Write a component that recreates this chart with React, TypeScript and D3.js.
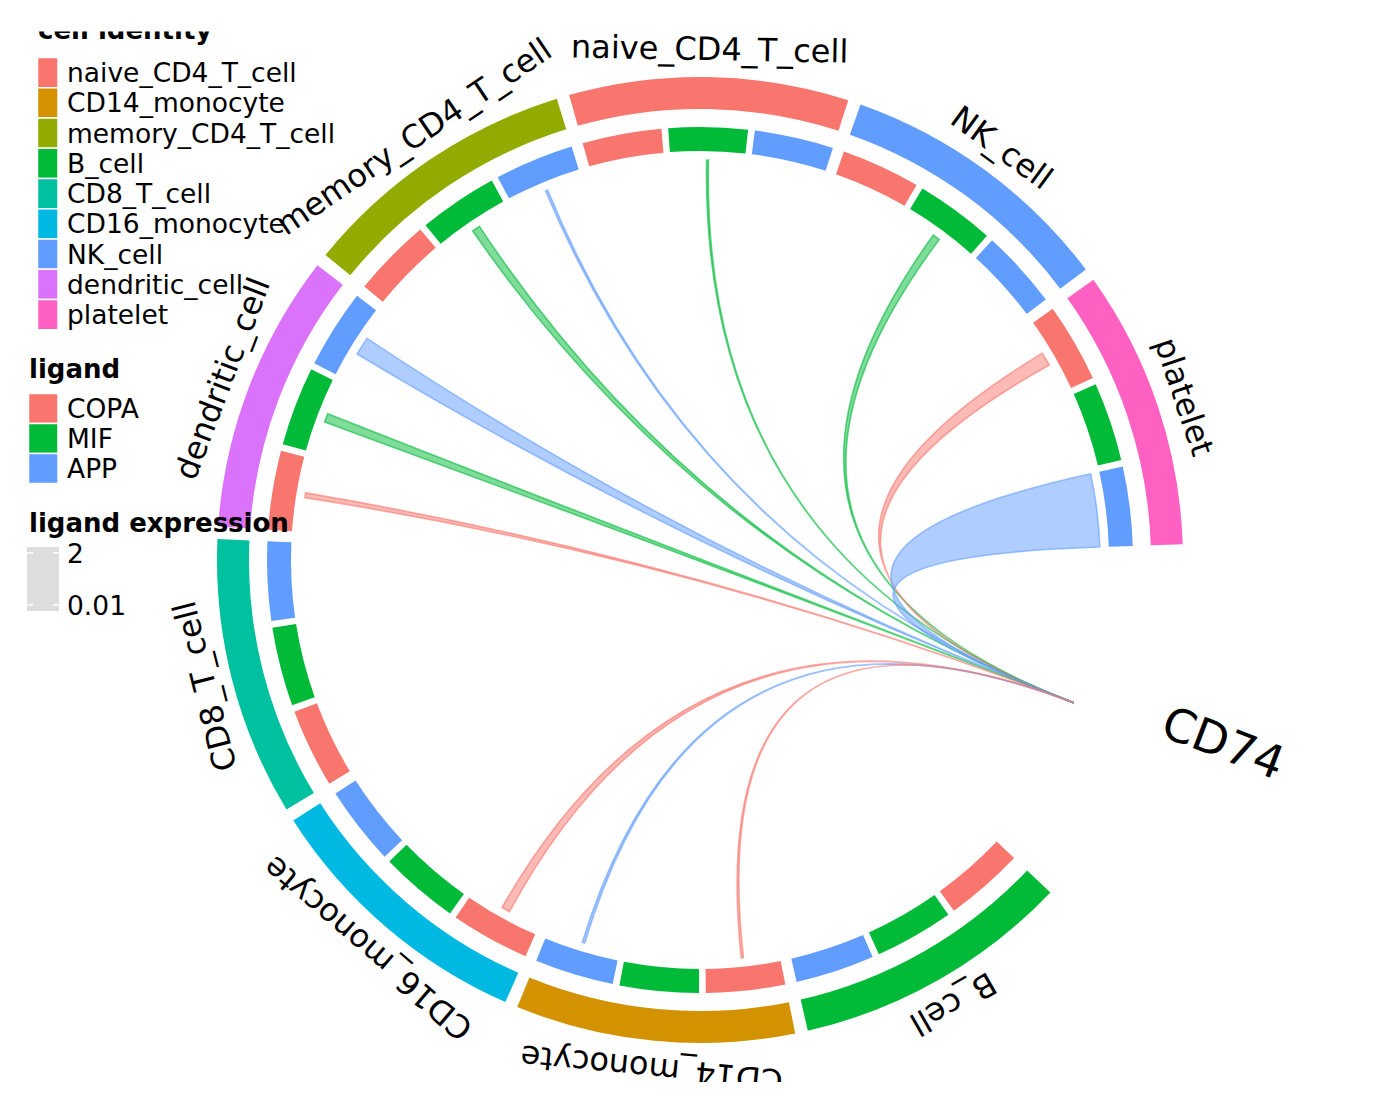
import React from 'react';
import * as d3 from 'd3';

// sender cell types in clockwise order around the circle (starting after CD74)
const circleCells = ['B_cell', 'CD14_monocyte', 'CD16_monocyte', 'CD8_T_cell', 'dendritic_cell', 'memory_CD4_T_cell', 'naive_CD4_T_cell', 'NK_cell', 'platelet'];
// legend order and colours
const legendCells = ['naive_CD4_T_cell', 'CD14_monocyte', 'memory_CD4_T_cell', 'B_cell', 'CD8_T_cell', 'CD16_monocyte', 'NK_cell', 'dendritic_cell', 'platelet'];
const cellColors = ['#F8766D', '#D39200', '#93AA00', '#00BA38', '#00C19F', '#00B9E3', '#619CFF', '#DB72FB', '#FF61C3'];
const ligands = ['COPA', 'MIF', 'APP'];
const ligandColors = ['#F8766D', '#00BA38', '#619CFF'];
const receptor = 'CD74';

// links: ligand expression of each sender → CD74
const linkCells = ['dendritic_cell', 'dendritic_cell', 'dendritic_cell', 'memory_CD4_T_cell', 'memory_CD4_T_cell', 'naive_CD4_T_cell', 'NK_cell', 'platelet', 'platelet', 'CD16_monocyte', 'CD14_monocyte', 'CD14_monocyte'];
const linkLigands = ['APP', 'MIF', 'COPA', 'MIF', 'APP', 'MIF', 'MIF', 'COPA', 'APP', 'COPA', 'APP', 'COPA'];
const linkValues = [0.5, 0.24, 0.13, 0.22, 0.06, 0.05, 0.2, 0.37, 2.0, 0.23, 0.07, 0.06];

const exprTickValues = [2, 0.01];
const exprTickLabels = ['2', '0.01'];

const FONT = 'DejaVu Sans, Verdana, sans-serif';

export default function App() {
  const cx = 700, cy = 560;
  const startDeg = 133.5, pitch = 35.13, sectorW = 33.6, segGap = 0.9;
  const segW = (sectorW - 2 * segGap) / 3;
  const receptorDeg = 110.9;
  const rad = (d: number) => (d * Math.PI) / 180;

  const cellColor = d3.scaleOrdinal<string, string>().domain(legendCells).range(cellColors);
  const ligColor = d3.scaleOrdinal<string, string>().domain(ligands).range(ligandColors);
  const sectorStart = d3.scaleLinear().domain([0, 1]).range([startDeg, startDeg + pitch]);
  const maxVal = d3.max(exprTickValues) as number;
  const widthScale = d3.scaleLinear().domain([0, maxVal]).range([0, segW]);

  const outerArc = d3.arc<any>().innerRadius(451).outerRadius(483);
  const innerArc = d3.arc<any>().innerRadius(409).outerRadius(433);
  const ribbon = d3.ribbon<any, any>().radius(400);

  const segStart = (ci: number, li: number) => sectorStart(ci) + li * (segW + segGap);

  const exprScale = d3.scaleLinear().domain([0.01, 2]).range([605, 553]);

  return (
    <svg width={1400} height={1120} style={{ position: 'absolute', left: 0, top: 0, background: '#fff' }} fontFamily={FONT}>
      <defs>
        <clipPath id="plotclip">
          <rect x={0} y={31.5} width={1400} height={1050.5} />
        </clipPath>
      </defs>
      <g clipPath="url(#plotclip)">
        <rect x={0} y={0} width={1400} height={1120} fill="#fff" />
        <g transform={`translate(${cx},${cy})`}>
          {circleCells.map((c, i) => {
            const s = sectorStart(i);
            return (
              <path key={'o' + c} d={outerArc({ startAngle: rad(s), endAngle: rad(s + sectorW) }) as string} fill={cellColor(c)} />
            );
          })}
          {circleCells.map((c, i) =>
            ligands.map((l, j) => {
              const s = segStart(i, j);
              return (
                <path key={'i' + c + l} d={innerArc({ startAngle: rad(s), endAngle: rad(s + segW) }) as string} fill={ligColor(l)} />
              );
            })
          )}
          {linkValues.map((v, k) => {
            const ci = circleCells.indexOf(linkCells[k]);
            const li = ligands.indexOf(linkLigands[k]);
            const mid = segStart(ci, li) + segW / 2;
            const half = widthScale(v) / 2;
            const d = ribbon({
              source: { startAngle: rad(mid - half), endAngle: rad(mid + half) },
              target: { startAngle: rad(receptorDeg), endAngle: rad(receptorDeg) },
            } as any) as unknown as string;
            const col = ligColor(linkLigands[k]);
            return (
              <path key={'r' + k} d={d} fill={col} fillOpacity={0.5} stroke={col} strokeOpacity={0.6} strokeWidth={1.6} />
            );
          })}
          {circleCells.map((c, i) => {
            const m = sectorStart(i) + sectorW / 2;
            return (
              <text key={'t' + c} transform={`rotate(${m}) translate(0,-500)`} textAnchor="middle" fontSize={32} fill="#000">
                {c}
              </text>
            );
          })}
          <text transform={`rotate(${receptorDeg - 90}) translate(491,0)`} textAnchor="start" fontSize={46} fill="#000">
            {receptor}
          </text>
        </g>

        {/* cell identity legend */}
        <text x={38} y={38.5} fontSize={26} fontWeight="bold" fill="#000">cell identity</text>
        {legendCells.map((c, i) => {
          const top = 57.5 + i * 30.25;
          return (
            <g key={'lc' + c}>
              <rect x={37.5} y={top} width={20.5} height={30.25} fill={cellColor(c)} stroke="#fff" strokeWidth={1.5} />
              <text x={67} y={top + 15.1} dominantBaseline="central" fontSize={26.5} fill="#000">{c}</text>
            </g>
          );
        })}

        {/* ligand legend */}
        <text x={29} y={377.5} fontSize={26} fontWeight="bold" fill="#000">ligand</text>
        {ligands.map((l, i) => {
          const top = 393.5 + i * 30;
          return (
            <g key={'ll' + l}>
              <rect x={28.5} y={top} width={29.5} height={30} fill={ligColor(l)} stroke="#fff" strokeWidth={1.5} />
              <text x={67} y={top + 15} dominantBaseline="central" fontSize={26.5} fill="#000">{l}</text>
            </g>
          );
        })}

        {/* ligand expression legend */}
        <text x={29} y={532} fontSize={26} fontWeight="bold" fill="#000">ligand expression</text>
        <rect x={27} y={547} width={32} height={64} fill="#DDDDDD" />
        {exprTickValues.map((v, i) => {
          const y = exprScale(v);
          return (
            <g key={'et' + i}>
              <line x1={27} x2={33} y1={y} y2={y} stroke="#fff" strokeWidth={1.5} />
              <line x1={53} x2={59} y1={y} y2={y} stroke="#fff" strokeWidth={1.5} />
              <text x={67} y={y} dominantBaseline="central" fontSize={26.5} fill="#000">{exprTickLabels[i]}</text>
            </g>
          );
        })}
      </g>
    </svg>
  );
}
